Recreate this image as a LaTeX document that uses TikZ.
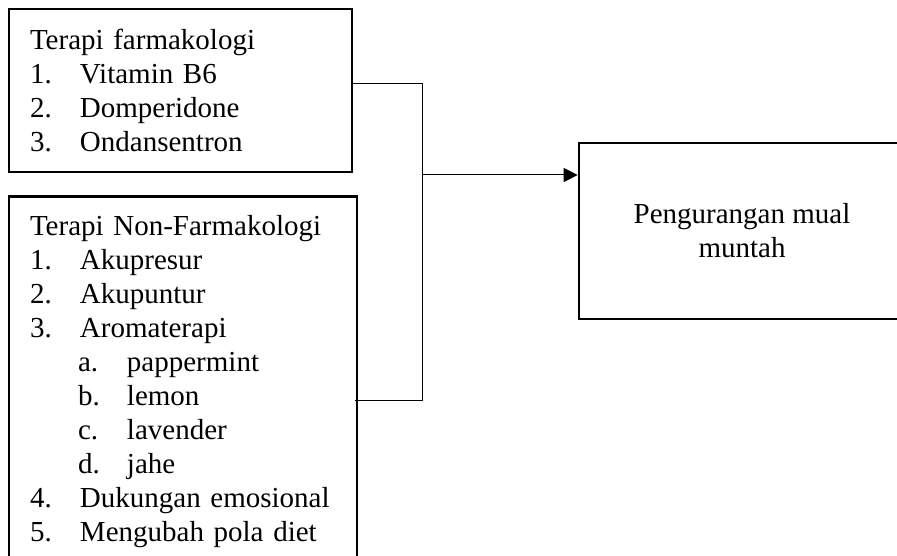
\documentclass[tikz,border=0pt]{standalone}
\usepackage{fontspec}
\setmainfont{Liberation Serif}
\usetikzlibrary{arrows.meta}
\newcommand{\numitem}[2]{\makebox[50pt][l]{#1}#2}
\newcommand{\subpoint}[2]{\hspace*{48pt}\makebox[49pt][l]{#1}#2}
\begin{document}
\begin{tikzpicture}[x=1pt,y=-1pt,
  box/.style={draw,line width=2.6pt,inner xsep=21pt,inner ysep=0pt,
    font=\fontsize{29}{34}\selectfont},
  link/.style={line width=1pt}]
\useasboundingbox (0,0) rectangle (897,556);
\clip (0,0) rectangle (897,556);
\node[box,minimum width=343pt,minimum height=163pt,text width=301pt,align=left] (farmako) at (180.5,90.5) {Terapi farmakologi\\
\numitem{1.}{Vitamin B6}\\
\numitem{2.}{Domperidone}\\
\numitem{3.}{Ondansentron}};
\node[box,minimum width=348pt,minimum height=371pt,text width=306pt,align=left] (nonfarmako) at (183,382) {Terapi Non-Farmakologi\\
\numitem{1.}{Akupresur}\\
\numitem{2.}{Akupuntur}\\
\numitem{3.}{Aromaterapi}\\
\subpoint{a.}{pappermint}\\
\subpoint{b.}{lemon}\\
\subpoint{c.}{lavender}\\
\subpoint{d.}{jahe}\\
\numitem{4.}{Dukungan emosional}\\
\numitem{5.}{Mengubah pola diet}};
\node[box,minimum width=326pt,minimum height=176pt,align=center] (hasil) at (742,231) {Pengurangan mual\\muntah};
% garis penghubung
\coordinate (jtop) at (422,84);
\coordinate (jmid) at (422,175);
\coordinate (jbot) at (422,400);
\draw[link] (farmako.east |- jtop) -- (jtop) -- (jbot) -- ([xshift=-3pt]nonfarmako.east |- jbot);
\draw[link,-{Triangle[length=14pt,width=14pt]}] (jmid) -- (hasil.west |- jmid);
\end{tikzpicture}
\end{document}
